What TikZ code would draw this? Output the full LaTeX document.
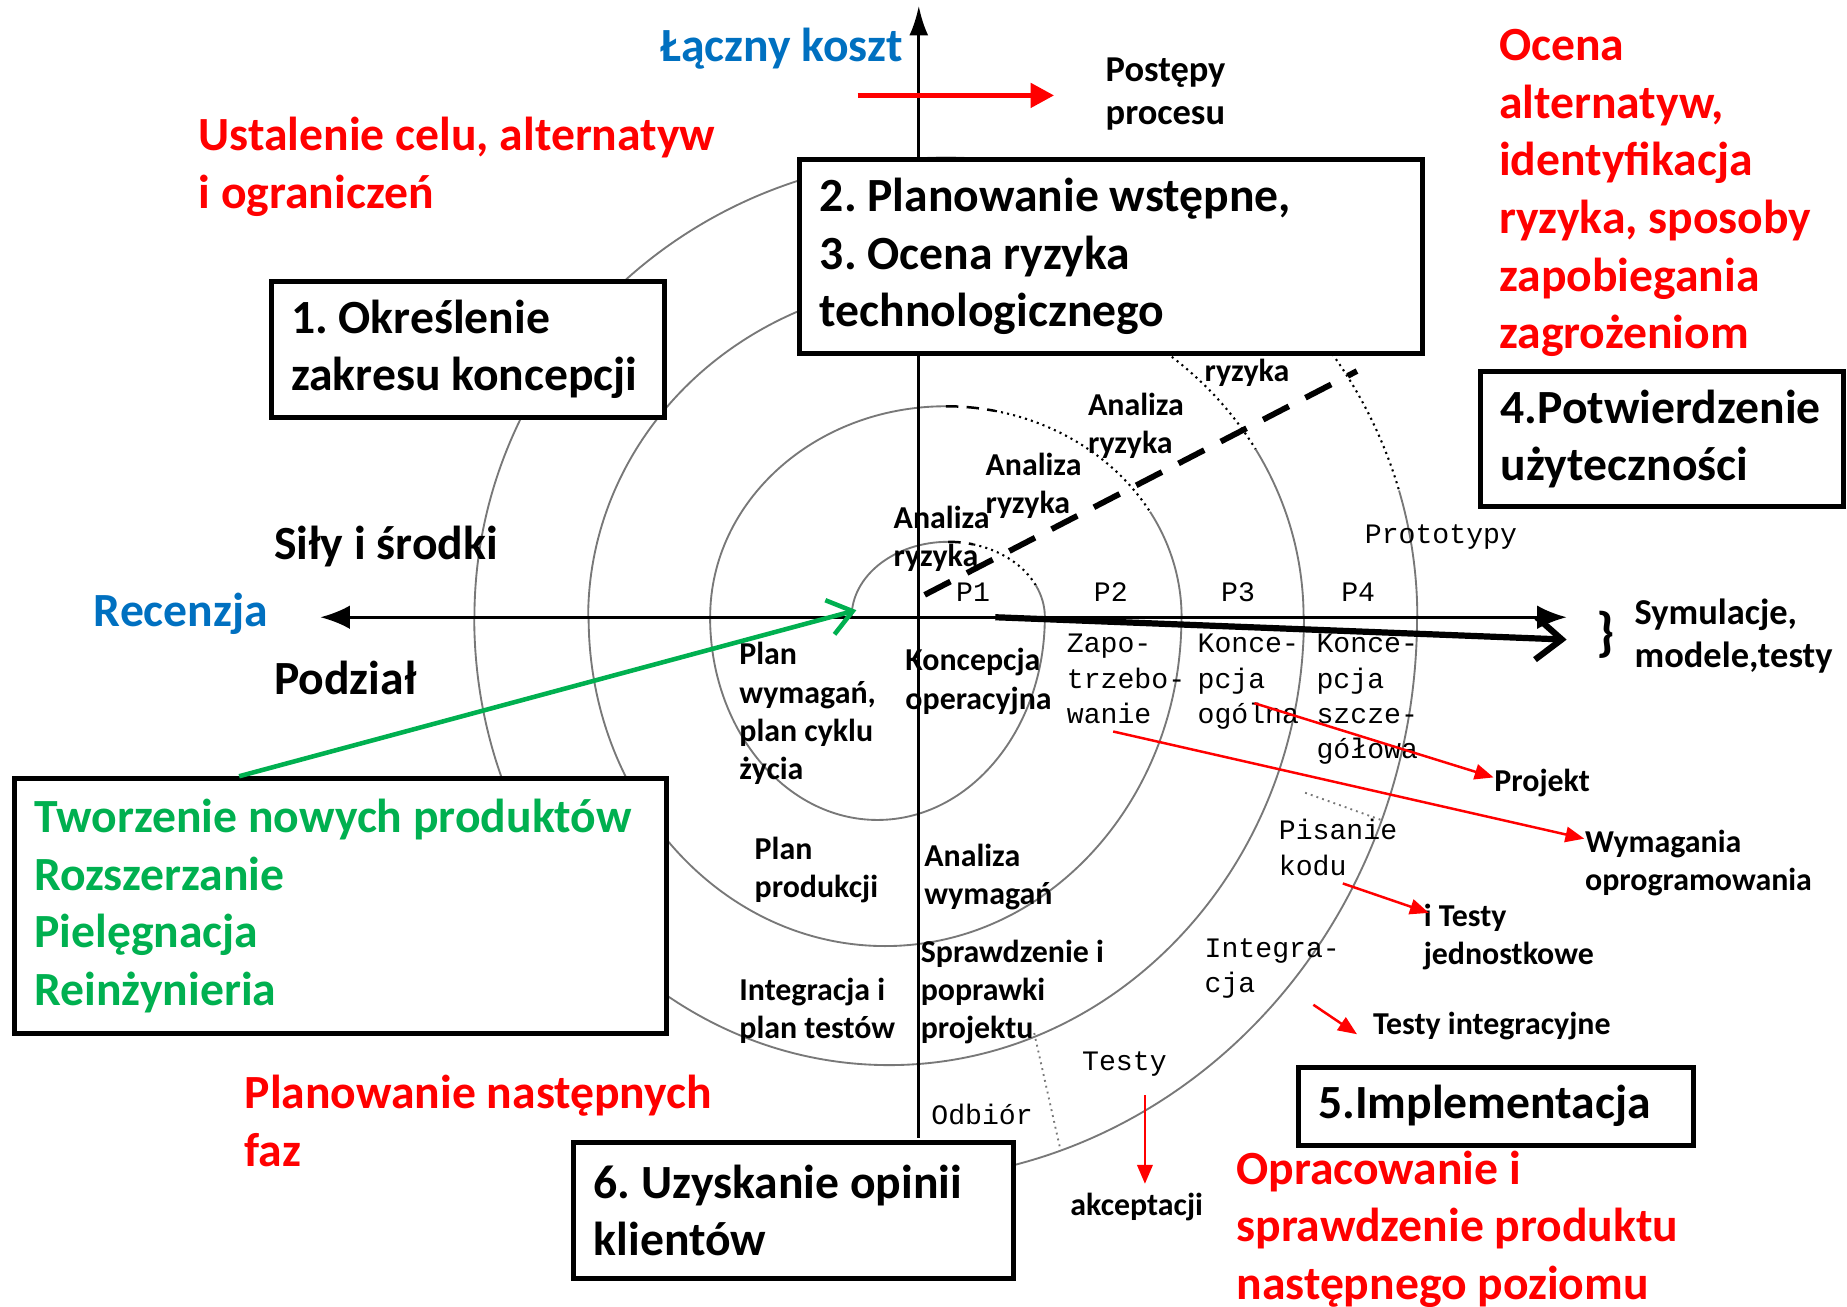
\documentclass[tikz,border=0pt]{standalone}
\usepackage{fontspec}
\setmainfont{Carlito}
\newfontfamily\pixfont{Liberation Mono}
\usetikzlibrary{arrows.meta}

\definecolor{spred}{RGB}{255,0,0}
\definecolor{spblue}{RGB}{0,112,192}
\definecolor{spgreen}{RGB}{0,176,80}
\definecolor{spgray}{RGB}{120,120,120}

\tikzset{
  bigtext/.style={anchor=base west, inner sep=0pt, align=left, font=\fontsize{11.5}{13.9}\selectfont\bfseries},
  midtext/.style={anchor=base west, inner sep=0pt, align=left, font=\fontsize{8.8}{10.5}\selectfont\bfseries},
  smalltext/.style={anchor=base west, inner sep=0pt, align=left, font=\fontsize{7.7}{9.25}\selectfont\bfseries},
  pixtext/.style={anchor=base west, inner sep=0pt, align=left, font=\fontsize{6.8}{8.5}\selectfont\pixfont},
  phasebox/.style={draw, line width=1.2pt, fill=white, anchor=north west, align=flush left, inner xsep=0.17cm, inner ysep=0pt, font=\fontsize{11.5}{13.9}\selectfont\bfseries},
  spiral/.style={spgray, line width=0.45pt},
  riskarc/.style={black, line width=0.5pt, densely dotted},
  riskdash/.style={black, line width=0.6pt, dash pattern=on 3pt off 2pt},
  redarrow/.style={spred, line width=0.6pt, -{Triangle[length=0.16cm, width=0.13cm]}},
}

\begin{document}
\frenchspacing
\begin{tikzpicture}[x=0.01cm, y=-0.01cm]
\useasboundingbox (0,0) rectangle (1568,1109);

% spiral centres
\coordinate (uc1) at (805,524);
\coordinate (uc) at (803,524);

% upper half arcs
\draw[spiral] ([shift={(180:0.82cm and 0.64cm)}]uc1) arc[start angle=180, end angle=90, x radius=0.82cm, y radius=0.64cm];
\draw[riskdash] ([shift={(90:0.82cm and 0.64cm)}]uc1) arc[start angle=90, end angle=75, x radius=0.82cm, y radius=0.64cm];
\draw[riskarc] ([shift={(75:0.82cm and 0.64cm)}]uc1) arc[start angle=75, end angle=25, x radius=0.82cm, y radius=0.64cm];
\draw[spiral] ([shift={(25:0.82cm and 0.64cm)}]uc1) arc[start angle=25, end angle=0, x radius=0.82cm, y radius=0.64cm];

\draw[spiral] ([shift={(180:2cm and 1.79cm)}]uc) arc[start angle=180, end angle=90, x radius=2cm, y radius=1.79cm];
\draw[riskdash] ([shift={(90:2cm and 1.79cm)}]uc) arc[start angle=90, end angle=78, x radius=2cm, y radius=1.79cm];
\draw[riskarc] ([shift={(78:2cm and 1.79cm)}]uc) arc[start angle=78, end angle=30, x radius=2cm, y radius=1.79cm];
\draw[spiral] ([shift={(30:2cm and 1.79cm)}]uc) arc[start angle=30, end angle=0, x radius=2cm, y radius=1.79cm];

\draw[spiral] ([shift={(180:3.035cm and 2.85cm)}]uc) arc[start angle=180, end angle=65, x radius=3.035cm, y radius=2.85cm];
\draw[riskarc] ([shift={(65:3.035cm and 2.85cm)}]uc) arc[start angle=65, end angle=30, x radius=3.035cm, y radius=2.85cm];
\draw[spiral] ([shift={(30:3.035cm and 2.85cm)}]uc) arc[start angle=30, end angle=0, x radius=3.035cm, y radius=2.85cm];

\draw[spiral] ([shift={(180:4cm and 3.9cm)}]uc) arc[start angle=180, end angle=70, x radius=4cm, y radius=3.9cm];
\draw[riskarc] ([shift={(70:4cm and 3.9cm)}]uc) arc[start angle=70, end angle=16, x radius=4cm, y radius=3.9cm];
\draw[spiral] ([shift={(16:4cm and 3.9cm)}]uc) arc[start angle=16, end angle=0, x radius=4cm, y radius=3.9cm];

% lower half arcs
\draw[spiral] (887,524) arc[start angle=0, end angle=-180, x radius=1.42cm, y radius=1.72cm];
\draw[spiral] (1003,524) arc[start angle=0, end angle=-180, x radius=2.515cm, y radius=2.79cm];
\draw[spiral] (1107,524) arc[start angle=0, end angle=-180, x radius=3.52cm, y radius=3.8cm];
\draw[spiral] (1203,524) arc[start angle=0, end angle=-100, x radius=4.46cm, y radius=4.78cm];
\draw[spiral, densely dotted] (1108,673) -- (1175,697); % kod
\draw[spiral, densely dotted] (878,877) -- (900,975); % odbior

% axes
\coordinate (ytop) at (780,5);
\coordinate (ybot) at (780,966);
\coordinate (xleft) at (272,524);
\coordinate (xright) at (1330,524);
\draw[line width=0.7pt, -{Latex[length=0.25cm, width=0.16cm]}] (ybot) -- (ytop);
\draw[line width=0.7pt, {Latex[length=0.25cm, width=0.2cm]}-{Latex[length=0.25cm, width=0.2cm]}] (xleft) -- (xright);

% progress and risk lines
\coordinate (progstart) at (845,524);
\coordinate (progend) at (1330,543);
\draw[line width=1.5pt, -{Straight Barb[length=0.22cm, width=0.36cm]}] (progstart) -- (progend);
\coordinate (riskstart) at (785,505);
\coordinate (riskend) at (1152,315);
\draw[line width=1.4pt, dash pattern=on 7pt off 4.5pt] (riskstart) -- (riskend);
\coordinate (costart) at (728,81);
\coordinate (coend) at (895,81);
\draw[spred, line width=1.4pt, -{Triangle[length=0.2cm, width=0.2cm]}] (costart) -- (coend);

% boxes
\node[phasebox, minimum width=3.34cm, minimum height=1.15cm, text width=3cm] (box1) at (228,237) {1. Określenie\\zakresu koncepcji};
\node[phasebox, minimum width=5.28cm, minimum height=1.65cm, text width=4.94cm] (box2) at (677,133) {2. Planowanie wstępne,\\3. Ocena ryzyka\\technologicznego};
\node[phasebox, minimum width=3.08cm, minimum height=1.15cm, text width=2.74cm] (box4) at (1255,313) {4.Potwierdzenie\\użyteczności};
\node[phasebox, minimum width=3.35cm, minimum height=0.66cm, text width=3.01cm] (box5) at (1100,904) {5.Implementacja};
\node[phasebox, minimum width=3.73cm, minimum height=1.15cm, text width=3.39cm] (box6) at (485,968) {6. Uzyskanie opinii\\klientów};
\node[phasebox, minimum width=5.53cm, minimum height=2.16cm, text width=5.19cm, text=spgreen] (types) at (10,659) {Tworzenie nowych produktów\\Rozszerzanie\\Pielęgnacja\\Reinżynieria};

\coordinate (greenstart) at (203,659);
\coordinate (greenend) at (727,518);
\draw[spgreen, line width=1.1pt, -{Straight Barb[length=0.2cm, width=0.3cm]}] (greenstart) -- (greenend);

% big labels (base = last line)
\node[bigtext, text=spblue] (koszt) at (560,52) {Łączny koszt};
\node[bigtext, text=spred] (cele) at (168,177) {Ustalenie celu, alternatyw\\i ograniczeń};
\node[bigtext, text=spred] (ocena) at (1272,296) {Ocena\\alternatyw,\\identyfikacja\\ryzyka, sposoby\\zapobiegania\\zagrożeniom};
\node[bigtext] (sily) at (232,475) {Siły i środki};
\node[bigtext, text=spblue] (recenzja) at (79,532) {Recenzja};
\node[bigtext] (podzial) at (232,590) {Podział};
\node[bigtext, text=spred] (nastfazy) at (207,990) {Planowanie następnych\\faz};
\node[bigtext, text=spred] (opracowanie) at (1049,1103) {Opracowanie i\\sprawdzenie produktu\\następnego poziomu};

% side labels
\node[midtext] (postepy) at (938,106) {Postępy\\procesu};
\node[anchor=base west, inner sep=0pt, font=\fontsize{13}{15}\selectfont\bfseries] (brace) at (1355,552) {\}};
\node[midtext] (symulacje) at (1387,567) {Symulacje,\\modele,testy};
\node[smalltext] (projekt) at (1268,672) {Projekt};
\node[smalltext] (wymagania) at (1345,756) {Wymagania\\oprogramowania};
\node[smalltext] (jednostkowe) at (1208,819) {i Testy\\jednostkowe};
\node[smalltext] (integracyjne) at (1165,878) {Testy integracyjne};
\node[smalltext] (akceptacji) at (908,1032) {akceptacji};

% labels inside the spiral
\node[smalltext] (ryzyka1) at (758,481) {Analiza\\ryzyka};
\node[smalltext] (ryzyka2) at (836,436) {Analiza\\ryzyka};
\node[smalltext] (ryzyka3) at (923,385) {Analiza\\ryzyka};
\node[smalltext] (ryzyka4) at (1022,324) {ryzyka};
\node[smalltext] (planwym) at (627,662) {Plan\\wymagań,\\plan cyklu\\życia};
\node[smalltext] (koncop) at (768,602) {Koncepcja\\operacyjna};
\node[smalltext] (planprod) at (640,762) {Plan\\produkcji};
\node[smalltext] (analwym) at (784,768) {Analiza\\wymagań};
\node[smalltext] (integr) at (627,882) {Integracja i\\plan testów};
\node[smalltext] (sprawdz) at (781,882) {Sprawdzenie i\\poprawki\\projektu};

\node[pixtext] (p1) at (811,511) {P1};
\node[pixtext] (p2) at (928,511) {P2};
\node[pixtext] (p3) at (1036,511) {P3};
\node[pixtext] (p4) at (1138,511) {P4};
\node[pixtext] (zapo) at (905,614) {Zapo-\\trzebo-\\wanie};
\node[pixtext] (ogolna) at (1016,614) {Konce-\\pcja\\ogólna};
\node[pixtext] (szczeg) at (1117,644) {Konce-\\pcja\\szcze-\\gółowa};
\node[pixtext] (prototypy) at (1158,461) {Prototypy};
\node[pixtext] (pisanie) at (1085,743) {Pisanie\\kodu};
\node[pixtext] (integra) at (1022,843) {Integra-\\cja};
\node[pixtext] (testy) at (918,909) {Testy};
\node[pixtext] (odbior) at (790,955) {Odbiór};

% red pointers
\coordinate (wymstart) at (945,621);
\coordinate (wymend) at (1345,712);
\coordinate (projstart) at (1065,597);
\coordinate (projend) at (1268,660);
\coordinate (kodstart) at (1140,750);
\coordinate (kodend) at (1213,775);
\coordinate (intstart) at (1115,853);
\coordinate (intend) at (1152,878);
\coordinate (akcstart) at (972,930);
\coordinate (akcend) at (972,1005);
\draw[redarrow] (wymstart) -- (wymend);
\draw[redarrow] (projstart) -- (projend);
\draw[redarrow] (kodstart) -- (kodend);
\draw[redarrow] (intstart) -- (intend);
\draw[redarrow] (akcstart) -- (akcend);

\end{tikzpicture}
\end{document}
